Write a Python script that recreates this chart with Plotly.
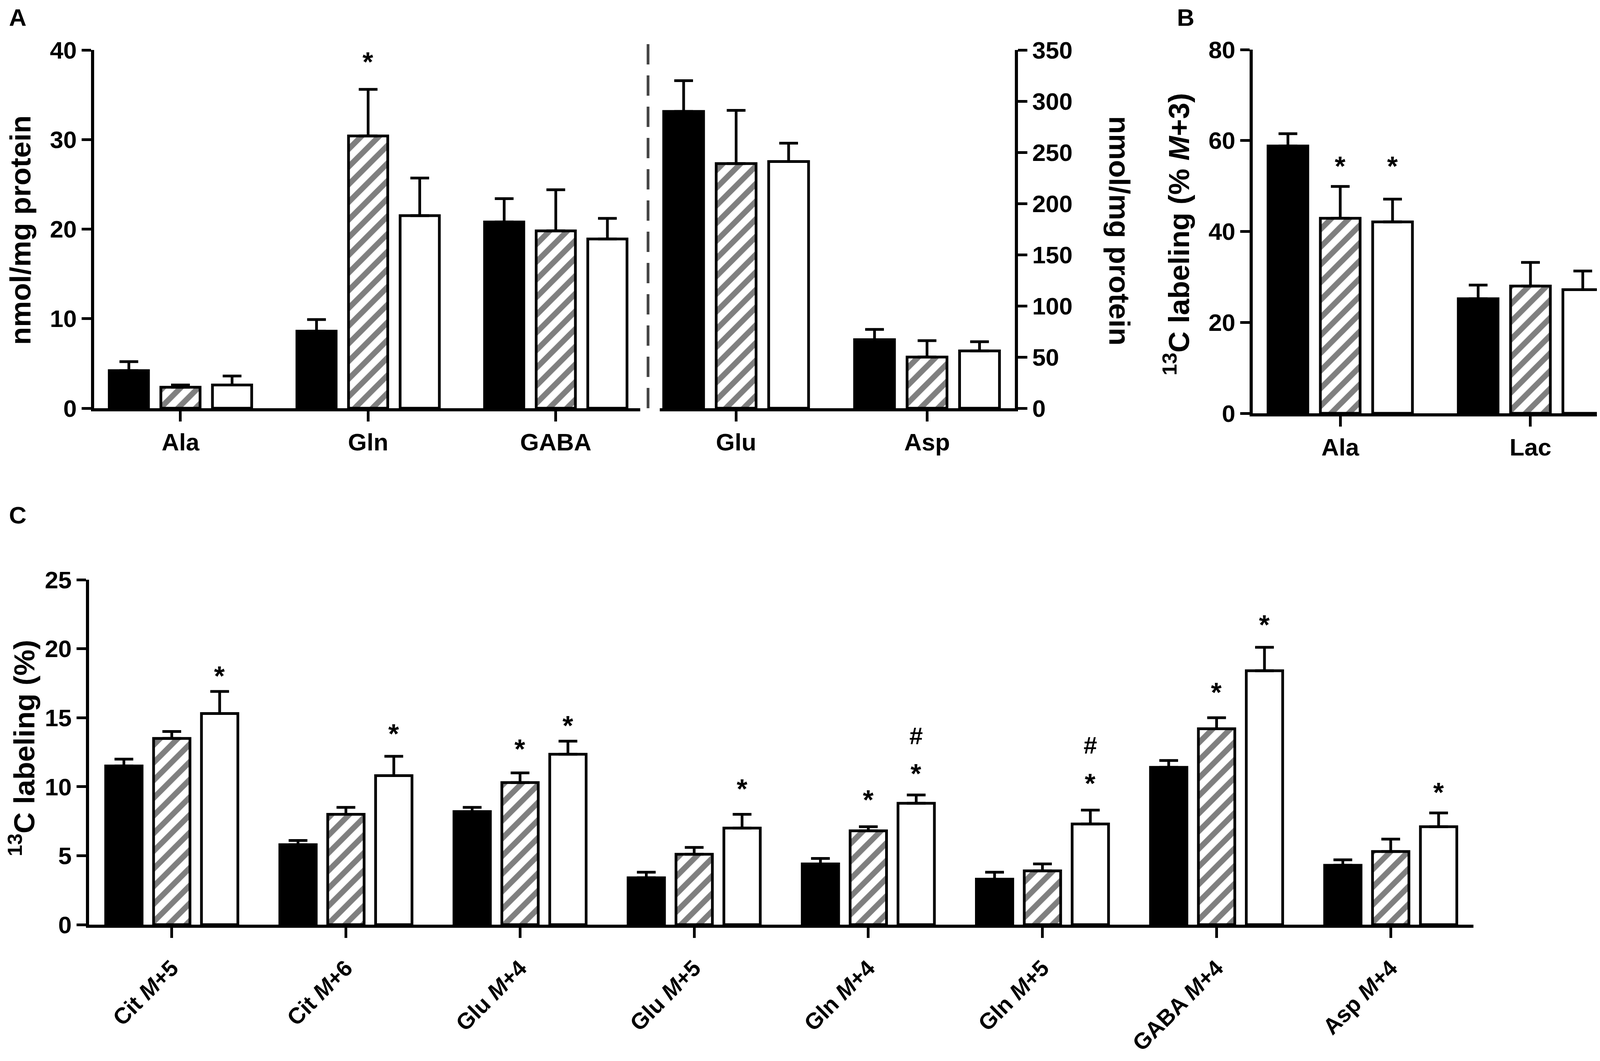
import plotly.graph_objects as go

# ---- data ----
# panel A, left axis (nmol/mg protein, 0-40)
a_left_cats = ["Ala", "Gln", "GABA"]
a_left_ctrl = [4.2, 8.6, 20.8]
a_left_ctrl_err = [1.0, 1.3, 2.6]
a_left_hatch = [2.35, 30.4, 19.8]
a_left_hatch_err = [0.25, 5.2, 4.6]
a_left_open = [2.6, 21.5, 18.9]
a_left_open_err = [1.0, 4.2, 2.3]

# panel A, right axis (nmol/mg protein, 0-350)
a_right_cats = ["Glu", "Asp"]
a_right_ctrl = [290, 67]
a_right_ctrl_err = [30, 10]
a_right_hatch = [239, 50]
a_right_hatch_err = [52, 16]
a_right_open = [241, 56]
a_right_open_err = [18, 9]

# panel B (13C labeling, % M+3)
b_cats = ["Ala", "Lac"]
b_ctrl = [58.8, 25.2]
b_ctrl_err = [2.7, 3.0]
b_hatch = [42.9, 28.0]
b_hatch_err = [7.0, 5.2]
b_open = [42.1, 27.2]
b_open_err = [5.0, 4.1]

# panel C (13C labeling, %)
c_cats = ["Cit M+5", "Cit M+6", "Glu M+4", "Glu M+5",
          "Gln M+4", "Gln M+5", "GABA M+4", "Asp M+4"]
c_ticktext = ["Cit <i>M</i>+5", "Cit <i>M</i>+6", "Glu <i>M</i>+4", "Glu <i>M</i>+5",
              "Gln <i>M</i>+4", "Gln <i>M</i>+5", "GABA <i>M</i>+4", "Asp <i>M</i>+4"]
c_ctrl = [11.5, 5.8, 8.2, 3.4, 4.4, 3.3, 11.4, 4.3]
c_ctrl_err = [0.5, 0.3, 0.3, 0.4, 0.4, 0.5, 0.5, 0.4]
c_hatch = [13.5, 8.0, 10.3, 5.1, 6.8, 3.9, 14.2, 5.3]
c_hatch_err = [0.5, 0.5, 0.7, 0.5, 0.3, 0.5, 0.8, 0.9]
c_open = [15.3, 10.8, 12.35, 7.0, 8.8, 7.3, 18.4, 7.1]
c_open_err = [1.6, 1.4, 0.95, 1.0, 0.6, 1.0, 1.7, 1.0]

# significance marks: (axis suffix, category index, series index, y, symbol)
marks = [
    ("", 1, 1, 39.4, "*"),
    ("3", 0, 1, 55.8, "*"), ("3", 0, 2, 55.8, "*"),
    ("4", 0, 2, 18.5, "*"), ("4", 1, 2, 14.3, "*"),
    ("4", 2, 1, 13.2, "*"), ("4", 2, 2, 14.9, "*"),
    ("4", 3, 2, 10.3, "*"),
    ("4", 4, 1, 9.5, "*"), ("4", 4, 2, 11.4, "*"), ("4", 4, 2, 13.7, "#"),
    ("4", 5, 2, 10.7, "*"), ("4", 5, 2, 13.0, "#"),
    ("4", 6, 1, 17.3, "*"), ("4", 6, 2, 22.2, "*"),
    ("4", 7, 2, 10.05, "*"),
]

W, H = 4157, 2716
OFF = 8                      # default body margin of the html page
FW, FH = W - 2 * OFF, H - 2 * OFF
FONT = "Liberation Sans"
SLOT = 0.275  # distance between bar centres inside a group


def px(x):
    return (x - OFF) / FW


def py(y):
    return 1 - (y - OFF) / FH


def add_group(fig, cats, vals, errs, axis):
    xa = "x" + axis
    ya = "y" + axis
    styles = [
        dict(color="black", line=dict(color="black", width=7)),
        dict(color="white", line=dict(color="black", width=7),
             pattern=dict(shape="/", fgcolor="black", bgcolor="white",
                          size=32, solidity=0.45)),
        dict(color="white", line=dict(color="black", width=7)),
    ]
    for v, e, st in zip(vals, errs, styles):
        fig.add_trace(go.Bar(
            x=cats, y=v, xaxis=xa, yaxis=ya, marker=st, showlegend=False,
            error_y=dict(type="data", symmetric=False, array=e,
                         arrayminus=[0] * len(e), color="black",
                         thickness=7, width=24),
        ))


fig = go.Figure()
add_group(fig, a_left_cats, [a_left_ctrl, a_left_hatch, a_left_open],
          [a_left_ctrl_err, a_left_hatch_err, a_left_open_err], "")
add_group(fig, a_right_cats, [a_right_ctrl, a_right_hatch, a_right_open],
          [a_right_ctrl_err, a_right_hatch_err, a_right_open_err], "2")
add_group(fig, b_cats, [b_ctrl, b_hatch, b_open],
          [b_ctrl_err, b_hatch_err, b_open_err], "3")
add_group(fig, c_cats, [c_ctrl, c_hatch, c_open],
          [c_ctrl_err, c_hatch_err, c_open_err], "4")

tickfont = dict(family=FONT, size=62, color="black", weight="bold")
ax = dict(showline=True, linecolor="black", linewidth=8, ticks="outside",
          ticklen=24, tickwidth=7, tickcolor="black", showgrid=False,
          zeroline=False, tickfont=tickfont, automargin=False)

fig.update_layout(
    width=FW, height=FH,
    margin=dict(l=0, r=0, t=0, b=0),
    paper_bgcolor="white", plot_bgcolor="white",
    barmode="group", bargap=0.175, bargroupgap=0.24,
    showlegend=False,
    xaxis=dict(ax, domain=[px(241), px(1639)], anchor="y",
               range=[-0.46, 2.45], ticklen=26),
    yaxis=dict(ax, domain=[py(1045), py(128)], anchor="x",
               range=[0, 40], tickvals=[0, 10, 20, 30, 40]),
    xaxis2=dict(ax, domain=[px(1689), px(2598)], anchor="y2",
                range=[-0.40, 1.46], ticklen=26),
    yaxis2=dict(ax, domain=[py(1045), py(128)], anchor="x2", side="right",
                range=[0, 350], tickvals=list(range(0, 351, 50))),
    xaxis3=dict(ax, domain=[px(3207), px(4142)], anchor="y3",
                range=[-0.46, 1.46], ticklen=26),
    yaxis3=dict(ax, domain=[py(1058), py(127)], anchor="x3",
                range=[0, 80], tickvals=[0, 20, 40, 60, 80]),
    xaxis4=dict(ax, domain=[px(228), px(3772)], anchor="y4",
                range=[-0.475, 7.475], ticklen=26, tickangle=-45,
                ticklabelstandoff=20,
                tickfont=dict(tickfont, size=58),
                tickvals=c_cats, ticktext=c_ticktext),
    yaxis4=dict(ax, domain=[py(2367), py(1484)], anchor="x4",
                range=[0, 25], tickvals=[0, 5, 10, 15, 20, 25]),
)

# dashed divider in panel A
fig.add_shape(type="line", xref="paper", yref="paper",
              x0=px(1659), x1=px(1659), y0=py(1045), y1=py(95),
              line=dict(color="#444444", width=7, dash="52px,28px"))

title_font = dict(family=FONT, size=75, color="black", weight="bold")
letter_font = dict(family=FONT, size=62, color="black", weight="bold")

titles = [
    (52, 590, -90, "nmol/mg protein"),
    (2866, 590, 90, "nmol/mg protein"),
    (3012, 600, -90, "<sup>13</sup>C labeling (% <i>M</i>+3)"),
    (56, 1915, -90, "<sup>13</sup>C labeling (%)"),
]
for x, y, ang, txt in titles:
    fig.add_annotation(xref="paper", yref="paper", x=px(x), y=py(y),
                       text=txt, textangle=ang, showarrow=False,
                       font=title_font, xanchor="center", yanchor="middle")

# panel letters: box tops sit at the top of the figure / above panel C
for x, y, txt in [(45, OFF, "A"), (3035, OFF, "B"), (45, 1282, "C")]:
    fig.add_annotation(xref="paper", yref="paper", x=px(x), y=py(y),
                       text=txt, showarrow=False, font=letter_font,
                       xanchor="center", yanchor="top")

for axis, ci, si, yv, sym in marks:
    star = sym == "*"
    fig.add_annotation(
        xref="x" + axis, yref="y" + axis, x=ci + (si - 1) * SLOT, y=yv,
        text=sym, showarrow=False, yanchor="middle",
        yshift=-17 if star else 0,
        font=dict(family=FONT, size=70 if star else 62, color="black",
                  weight="bold"),
    )

fig.write_html("out.html")
